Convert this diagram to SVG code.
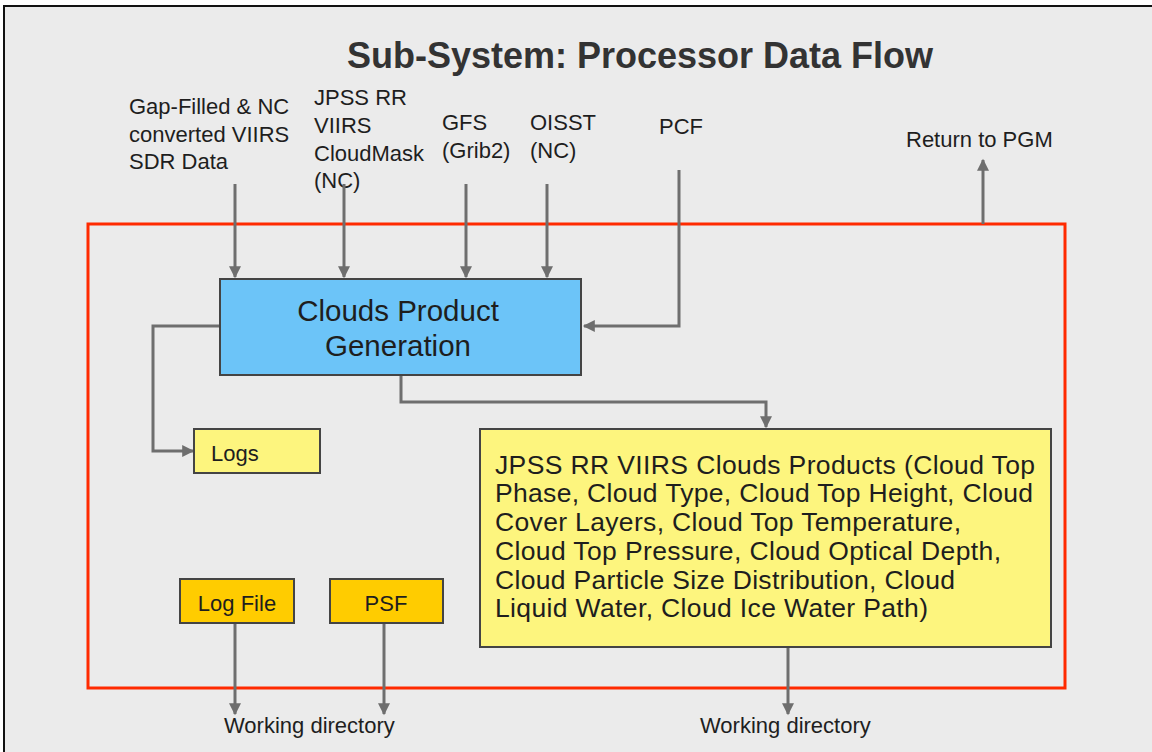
<svg xmlns="http://www.w3.org/2000/svg" width="1152" height="752" viewBox="0 0 1152 752">
<style>
text{font-family:"Liberation Sans",Arial,sans-serif;fill:#1e1e1e}
.lbl{font-size:22px}
.box{stroke:#444;stroke-width:2}
.conn{fill:none;stroke:#6e6e6e;stroke-width:3}
</style>
<defs>
<marker id="ah" viewBox="0 0 10 10" refX="9" refY="5" markerWidth="4.5" markerHeight="4" orient="auto" markerUnits="strokeWidth">
<path d="M0,0 L10,5 L0,10 z" fill="#6e6e6e"/>
</marker>
</defs>
<rect x="0" y="0" width="1152" height="752" fill="#ffffff"/>
<rect x="4" y="6" width="1160" height="760" fill="#ebebeb" stroke="#111" stroke-width="2"/>
<text x="640" y="68" text-anchor="middle" font-size="36" font-weight="bold" style="fill:#333">Sub-System: Processor Data Flow</text>
<g id="boundary"><rect x="88" y="224" width="977" height="464" fill="none" stroke="#ff2a00" stroke-width="3"/></g>
<g id="labels" class="lbl">
<text x="129" y="114">Gap-Filled &amp; NC</text>
<text x="129" y="142">converted VIIRS</text>
<text x="129" y="169">SDR Data</text>
<text x="314" y="105">JPSS RR</text>
<text x="314" y="133">VIIRS</text>
<text x="314" y="161">CloudMask</text>
<text x="314" y="188">(NC)</text>
<text x="442" y="130">GFS</text>
<text x="442" y="158">(Grib2)</text>
<text x="530" y="130">OISST</text>
<text x="530" y="158">(NC)</text>
<text x="659" y="134">PCF</text>
<text x="906" y="147">Return to PGM</text>
<text x="224" y="733">Working directory</text>
<text x="700" y="733">Working directory</text>
</g>
<g id="connectors">
<path class="conn" marker-end="url(#ah)" d="M235,184 V277"/>
<path class="conn" marker-end="url(#ah)" d="M344,184 V277"/>
<path class="conn" marker-end="url(#ah)" d="M466,184 V277"/>
<path class="conn" marker-end="url(#ah)" d="M547,184 V277"/>
<path class="conn" marker-end="url(#ah)" d="M679,170 V326 H584"/>
<path class="conn" marker-end="url(#ah)" d="M983,224 V160"/>
<path class="conn" marker-end="url(#ah)" d="M220,326 H153 V451 H193"/>
<path class="conn" marker-end="url(#ah)" d="M401,375 V402 H766 V427"/>
<path class="conn" marker-end="url(#ah)" d="M235,623 V714"/>
<path class="conn" marker-end="url(#ah)" d="M384,623 V714"/>
<path class="conn" marker-end="url(#ah)" d="M788,647 V714"/>
</g>
<g id="clouds-product-generation">
<rect class="box" x="220" y="279" width="361" height="96" fill="#6cc4f8"/>
<text x="398" y="321" text-anchor="middle" font-size="29.5">Clouds Product</text>
<text x="398" y="356" text-anchor="middle" font-size="29.5">Generation</text>
</g>
<g id="logs">
<rect class="box" x="194" y="429" width="126" height="44" fill="#fdf57e"/>
<text class="lbl" x="211" y="461">Logs</text>
</g>
<g id="products">
<rect class="box" x="480" y="429" width="571" height="218" fill="#fdf57e"/>
<g font-size="26.5">
<text x="495" y="474" textLength="540">JPSS RR VIIRS Clouds Products (Cloud Top</text>
<text x="495" y="502" textLength="538">Phase, Cloud Type, Cloud Top Height, Cloud</text>
<text x="495" y="531" textLength="466">Cover Layers, Cloud Top Temperature,</text>
<text x="495" y="560" textLength="506">Cloud Top Pressure, Cloud Optical Depth,</text>
<text x="495" y="589" textLength="460">Cloud Particle Size Distribution, Cloud</text>
<text x="495" y="617" textLength="433">Liquid Water, Cloud Ice Water Path)</text>
</g>
</g>
<g id="log-file">
<rect class="box" x="180" y="579" width="114" height="44" fill="#ffcc00"/>
<text class="lbl" x="237" y="611" text-anchor="middle">Log File</text>
</g>
<g id="psf">
<rect class="box" x="330" y="579" width="113" height="44" fill="#ffcc00"/>
<text class="lbl" x="386" y="611" text-anchor="middle">PSF</text>
</g>
</svg>
